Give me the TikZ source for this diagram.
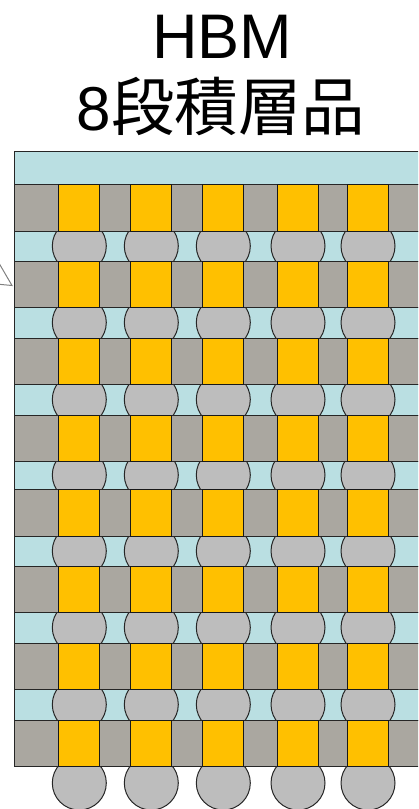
\documentclass[tikz,border=0pt]{standalone}
\usepackage{fontspec}
\setmainfont{Liberation Sans}
\newfontfamily\cjk{Noto Sans CJK JP}
\definecolor{bandcyan}{HTML}{BADFE2}
\definecolor{dramgrey}{HTML}{AAA7A0}
\definecolor{bumpgrey}{HTML}{BDBDBD}
\definecolor{viaorange}{HTML}{FFC000}
\tikzset{
  bandbar/.style={fill=bandcyan,draw=black!85,line width=1pt},
  diebar/.style={fill=dramgrey,draw=black!85,line width=1pt},
  viabox/.style={fill=viaorange,draw=black!90,line width=1pt},
  bump/.style={fill=bumpgrey,draw=black!85,line width=1pt},
  titletext/.style={inner sep=0pt,anchor=base,text=black}
}
\begin{document}
\begin{tikzpicture}[x=1pt,y=-1pt]
\path[use as bounding box] (0,0) rectangle (418,809);
\clip (0,0) rectangle (418,809);
% title
\node[titletext,font=\fontsize{63}{63}\selectfont] (t1) at (222,58) {HBM};
\node[titletext,font=\fontsize{62}{62}\selectfont] (t2) at (221,130) {8{\cjk\fontsize{63.5}{63.5}\selectfont 段積層品}};
% small open triangle at the left edge
\draw[draw=black!50,line width=1pt,line join=miter] (-4,258) -- (12,285.5) -- (-4,284);
% top band and cyan gaps
\draw[bandbar] (14.7,151.5) rectangle (430,184);
\foreach \a/\b in {231/261,307/338,384/415,461/489,536/566,612/643,689/720}{
  \draw[bandbar] (14.7,\a) rectangle (430,\b);
  \foreach \c in {79.3,151.3,223.3,298,368}{
    \draw[bump] (\c,{(\a+\b)/2}) circle (27);
  }
}
% bottom bumps
\foreach \c in {79.3,151.3,223.3,298,368}{
  \draw[bump] (\c,783) circle (27);
}
% dies and orange vias
\foreach \a/\b in {184/231,261/307,338/384,415/461,489/536,566/612,643/689,720/766}{
  \draw[diebar] (14.7,\a) rectangle (430,\b);
  \foreach \l/\r in {58.7/99.7,130.7/171.7,202.7/243.7,277.2/318.2,347.2/388.2}{
    \draw[viabox] (\l,\a) rectangle (\r,\b);
  }
}
\end{tikzpicture}
\end{document}
